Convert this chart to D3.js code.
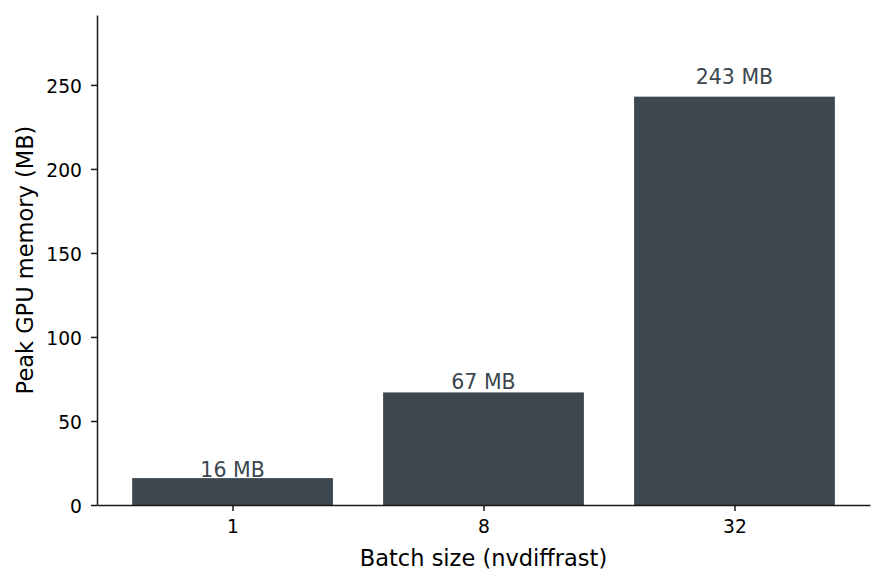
<!DOCTYPE html>
<html lang="en">
<head>
<meta charset="UTF-8">
<title>Peak GPU memory by batch size</title>
<script src="https://d3js.org/d3.v7.min.js"></script>
<style>
  body { margin: 0; background: #fff; }
  svg { display: block; }
</style>
</head>
<body>
<svg id="chart" width="885" height="585"></svg>
<script>
// data
const batchSizes = ["1", "8", "32"];
const peakMemory = [16, 67, 243];
const barLabels = ["16 MB", "67 MB", "243 MB"];
const yTicks = [0, 50, 100, 150, 200, 250];

const FONT = "DejaVu Sans";
const svg = d3.select("#chart");
const margin = {top: 15, right: 15, bottom: 80, left: 97};
const w = 885 - margin.left - margin.right,
      h = 585 - margin.top - margin.bottom;
const barColor = "#3c4750";

const g = svg.append("g").attr("transform", `translate(${margin.left},${margin.top})`);

// matplotlib-ish: bars of width 0.8, 5% margins
const x = d3.scaleLinear().domain([-0.54, batchSizes.length - 1 + 0.54]).range([0, w]);
const y = d3.scaleLinear().domain([0, d3.max(peakMemory) * 1.2]).range([h, 0]);

g.selectAll("rect.bar")
  .data(peakMemory)
  .join("rect")
  .attr("class", "bar")
  .attr("x", (d, i) => x(i - 0.4))
  .attr("width", (d, i) => x(i + 0.4) - x(i - 0.4))
  .attr("y", d => y(d))
  .attr("height", d => h - y(d))
  .attr("fill", barColor);

// labels sit a little above each bar (3% of its value)
g.selectAll("text.val")
  .data(peakMemory)
  .join("text")
  .attr("class", "val")
  .attr("x", (d, i) => x(i))
  .attr("y", d => y(d * 1.03))
  .attr("text-anchor", "middle")
  .attr("font-family", FONT)
  .attr("font-size", 20.5)
  .attr("fill", barColor)
  .text((d, i) => barLabels[i]);

function styleAxis(ax) {
  ax.attr("font-family", FONT).attr("font-size", 18.7);
  ax.selectAll(".tick text").attr("fill", "#000");
  ax.selectAll(".tick line").attr("stroke", "#1a1a1a").attr("stroke-width", 1.5);
  ax.select(".domain").attr("stroke", "#1a1a1a").attr("stroke-width", 1.5);
}

const xAxis = g.append("g")
  .attr("transform", `translate(0,${h})`)
  .call(d3.axisBottom(x).tickValues(d3.range(batchSizes.length))
    .tickFormat(i => batchSizes[i]).tickSize(6).tickSizeOuter(0).tickPadding(9));
styleAxis(xAxis);

const yAxis = g.append("g")
  .call(d3.axisLeft(y).tickValues(yTicks).tickSize(6).tickSizeOuter(0).tickPadding(9));
styleAxis(yAxis);
yAxis.selectAll(".tick text").attr("dy", "0.42em");

svg.append("text")
  .attr("x", margin.left + w / 2)
  .attr("y", 566)
  .attr("text-anchor", "middle")
  .attr("font-family", FONT)
  .attr("font-size", 22.5)
  .text("Batch size (nvdiffrast)");

svg.append("text")
  .attr("transform", `translate(33,${margin.top + h / 2}) rotate(-90)`)
  .attr("text-anchor", "middle")
  .attr("font-family", FONT)
  .attr("font-size", 22.5)
  .text("Peak GPU memory (MB)");
</script>
</body>
</html>
